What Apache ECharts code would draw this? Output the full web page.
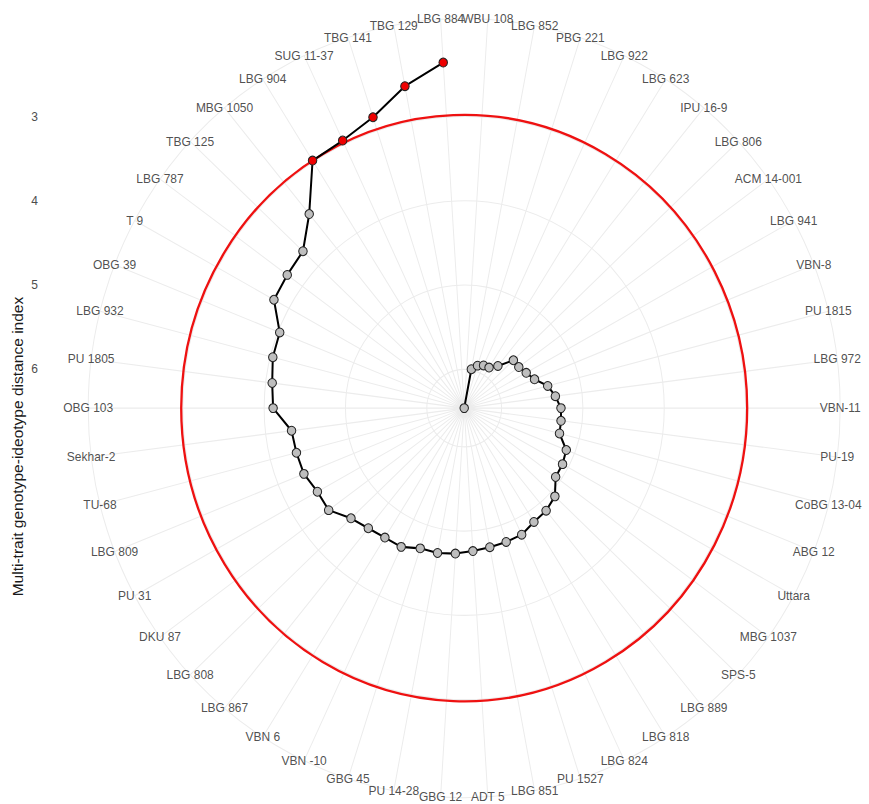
<!DOCTYPE html>
<html><head><meta charset="utf-8">
<script src="https://cdn.jsdelivr.net/npm/echarts@6/dist/echarts.min.js"></script>
<style>
html,body{margin:0;padding:0;background:#fff;overflow:hidden}
#wrap{width:869px;height:804px;overflow:hidden}
#c{width:869px;height:776px;transform:scaleY(1.0361);transform-origin:0 0}
</style>
</head><body><div id="wrap"><div id="c"></div></div>
<script>
// Genotypes clockwise from the top (worst MGIDI at the centre, best at the rim)
const genotypes = ["WBU 108","LBG 852","PBG 221","LBG 922","LBG 623","IPU 16-9","LBG 806","ACM 14-001","LBG 941","VBN-8",
  "PU 1815","LBG 972","VBN-11","PU-19","CoBG 13-04","ABG 12","Uttara","MBG 1037","SPS-5","LBG 889",
  "LBG 818","LBG 824","PU 1527","LBG 851","ADT 5","GBG 12","PU 14-28","GBG 45","VBN -10","VBN 6",
  "LBG 867","LBG 808","DKU 87","PU 31","LBG 809","TU-68","Sekhar-2","OBG 103","PU 1805","LBG 932",
  "OBG 39","T 9","LBG 787","TBG 125","MBG 1050","LBG 904","SUG 11-37","TBG 141","TBG 129","LBG 884"];
const mgidi = [6.46,5.99,5.93,5.90,5.89,5.81,5.63,5.63,5.59,5.53,
  5.40,5.33,5.27,5.26,5.25,5.11,5.08,5.07,4.93,4.88,
  4.86,4.80,4.79,4.78,4.76,4.73,4.71,4.71,4.64,4.64,
  4.61,4.55,4.40,4.40,4.34,4.33,4.32,4.11,4.08,4.03,
  4.02,3.79,3.77,3.74,3.47,2.98,2.95,2.83,2.57,2.35];
const radialTicks = [3,4,5,6];
const nSelected = 5;
const axisTitle = "Multi-trait genotype-ideotype distance index";

const FONT = "Liberation Sans, Arial, Helvetica, sans-serif";
const CX = 464.2, CY = 393.9, RING = 376; // ring = label circle (0.45 vs data 0.40)

const rMax = Math.max(...mgidi), rMin = Math.min(...mgidi);
const rAxisMin = rMax - (rMax - rMin) * 0.45 / 0.40;
const cut = [...mgidi].sort((a,b)=>a-b)[nSelected-1];

function circleItem(color, width){
  return function(params, api){
    const cs = params.coordSys;
    const p = api.coord([api.value(0), api.value(1)]);
    const r = Math.hypot(p[0]-cs.cx, p[1]-cs.cy);
    return {type:'circle', silent:true, shape:{cx:cs.cx, cy:cs.cy, r:r},
      style:{fill:'none', stroke:color, lineWidth:width}};
  };
}

const chart = echarts.init(document.getElementById('c'), null, {renderer:'svg'});
chart.setOption({
  animation:false,
  backgroundColor:'#fff',
  polar:{center:[CX, CY], radius:RING},
  angleAxis:{type:'category', data:genotypes, startAngle:90, clockwise:true, boundaryGap:true,
    axisLine:{show:true, lineStyle:{color:'#ececec', width:1}},
    axisTick:{show:false, alignWithLabel:true, interval:0},
    axisLabel:{show:false, interval:0},
    splitLine:{show:true, interval:0, lineStyle:{color:'#ececec', width:1}}},
  radiusAxis:{type:'value', inverse:true, min:rAxisMin, max:rMax,
    axisLine:{show:false}, axisTick:{show:false}, axisLabel:{show:false}, splitLine:{show:false}},
  grid:{left:42, top:CY-RING, height:RING, width:10},
  xAxis:{type:'value', show:false},
  yAxis:{type:'value', inverse:true, min:rAxisMin, max:rMax,
    axisLine:{show:false}, axisTick:{show:false}, splitLine:{show:false},
    axisLabel:{customValues:radialTicks, fontSize:12, color:'#4d4d4d', margin:4, fontFamily:FONT}},
  graphic:[{type:'text', x:18, y:431, rotation:Math.PI/2,
    style:{text:axisTitle, fontSize:15, fill:'#1a1a1a', align:'center', verticalAlign:'middle', fontFamily:FONT}}],
  series:[
    {type:'custom', coordinateSystem:'polar', z:1, silent:true,
      encode:{radius:0, angle:1},
      data:radialTicks.map(t=>[t,0]), renderItem:circleItem('#ececec',1)},
    {type:'custom', coordinateSystem:'polar', z:2, silent:true,
      encode:{radius:0, angle:1},
      data:[[cut,0]], renderItem:circleItem('#ee1111',2.3)},
    {type:'line', coordinateSystem:'polar', z:3, silent:true,
      data:mgidi.map((v,i)=>({value:[v,i], itemStyle:{color: v<=cut ? '#ee0000' : '#bebebe'}})),
      lineStyle:{color:'#000', width:2},
      symbol:'circle', symbolSize:8.5, showAllSymbol:true,
      itemStyle:{borderColor:'#222', borderWidth:1}},
    {type:'scatter', coordinateSystem:'polar', z:4, silent:true,
      data:genotypes.map((g,i)=>({name:g, value:[rAxisMin,i]})),
      symbolSize:1, itemStyle:{color:'rgba(0,0,0,0)'},
      label:{show:true, position:'inside', formatter:'{b}', fontSize:12, lineHeight:12, color:'#222', fontFamily:FONT}}
  ]
});
</script>
</body></html>
